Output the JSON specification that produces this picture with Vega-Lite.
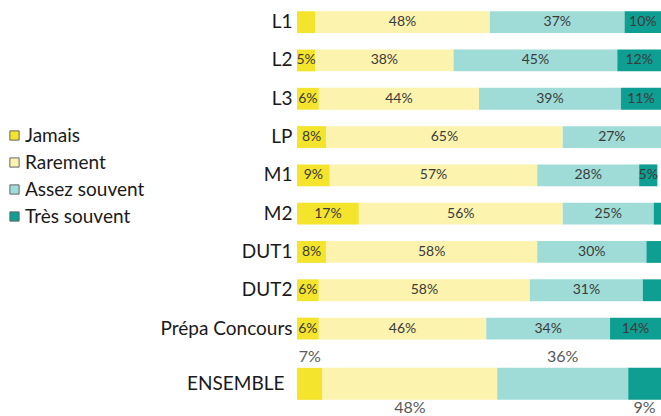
{
  "$schema": "https://vega.github.io/schema/vega-lite/v6.json",
  "autosize": {"type": "none"},
  "width": 364,
  "height": 383,
  "padding": {"left": 297, "top": 3, "right": 0, "bottom": 30},
  "background": "white",
  "config": {"font": "Lato", "view": {"stroke": null}},
  "data": {
    "values": [
      {"cat": "L1", "r": "Jamais", "v": 5},
      {"cat": "L1", "r": "Rarement", "v": 48},
      {"cat": "L1", "r": "Assez souvent", "v": 37},
      {"cat": "L1", "r": "Très souvent", "v": 10},
      {"cat": "L2", "r": "Jamais", "v": 5},
      {"cat": "L2", "r": "Rarement", "v": 38},
      {"cat": "L2", "r": "Assez souvent", "v": 45},
      {"cat": "L2", "r": "Très souvent", "v": 12},
      {"cat": "L3", "r": "Jamais", "v": 6},
      {"cat": "L3", "r": "Rarement", "v": 44},
      {"cat": "L3", "r": "Assez souvent", "v": 39},
      {"cat": "L3", "r": "Très souvent", "v": 11},
      {"cat": "LP", "r": "Jamais", "v": 8},
      {"cat": "LP", "r": "Rarement", "v": 65},
      {"cat": "LP", "r": "Assez souvent", "v": 27},
      {"cat": "LP", "r": "Très souvent", "v": 1},
      {"cat": "M1", "r": "Jamais", "v": 9},
      {"cat": "M1", "r": "Rarement", "v": 57},
      {"cat": "M1", "r": "Assez souvent", "v": 28},
      {"cat": "M1", "r": "Très souvent", "v": 5},
      {"cat": "M2", "r": "Jamais", "v": 17},
      {"cat": "M2", "r": "Rarement", "v": 56},
      {"cat": "M2", "r": "Assez souvent", "v": 25},
      {"cat": "M2", "r": "Très souvent", "v": 2},
      {"cat": "DUT1", "r": "Jamais", "v": 8},
      {"cat": "DUT1", "r": "Rarement", "v": 58},
      {"cat": "DUT1", "r": "Assez souvent", "v": 30},
      {"cat": "DUT1", "r": "Très souvent", "v": 4},
      {"cat": "DUT2", "r": "Jamais", "v": 6},
      {"cat": "DUT2", "r": "Rarement", "v": 58},
      {"cat": "DUT2", "r": "Assez souvent", "v": 31},
      {"cat": "DUT2", "r": "Très souvent", "v": 5},
      {"cat": "Prépa Concours", "r": "Jamais", "v": 6},
      {"cat": "Prépa Concours", "r": "Rarement", "v": 46},
      {"cat": "Prépa Concours", "r": "Assez souvent", "v": 34},
      {"cat": "Prépa Concours", "r": "Très souvent", "v": 14},
      {"cat": "ENSEMBLE", "r": "Jamais", "v": 7},
      {"cat": "ENSEMBLE", "r": "Rarement", "v": 48},
      {"cat": "ENSEMBLE", "r": "Assez souvent", "v": 36},
      {"cat": "ENSEMBLE", "r": "Très souvent", "v": 9}
    ]
  },
  "transform": [
    {"calculate": "indexof(['Jamais','Rarement','Assez souvent','Très souvent'], datum.r)", "as": "o"},
    {"stack": "v", "groupby": ["cat"], "sort": [{"field": "o"}], "as": ["x0", "x1"]},
    {"calculate": "(datum.x0 + datum.x1) / 2", "as": "xm"},
    {"calculate": "datum.v + '%'", "as": "lab"}
  ],
  "encoding": {
    "y": {
      "field": "cat",
      "type": "nominal",
      "sort": ["L1", "L2", "L3", "LP", "M1", "M2", "DUT1", "DUT2", "Prépa Concours", "ENSEMBLE"],
      "scale": {"paddingInner": 0.43, "paddingOuter": 0.215},
      "title": null,
      "axis": {
        "domain": false,
        "ticks": false,
        "labelFont": "Lato",
        "labelFontSize": 19,
        "labelColor": "#1a1a1a",
        "labelPadding": {"condition": {"test": "datum.value == 'ENSEMBLE'", "value": 13}, "value": 5},
        "labelOffset": {"condition": {"test": "datum.value == 'ENSEMBLE'", "value": 17}, "value": 0}
      }
    }
  },
  "layer": [
    {
      "transform": [{"filter": "datum.cat != 'ENSEMBLE'"}],
      "mark": {"type": "bar"},
      "encoding": {
        "x": {"field": "x0", "type": "quantitative", "scale": {"domain": [0, 100]}, "axis": null},
        "x2": {"field": "x1"},
        "color": {
          "field": "r",
          "type": "nominal",
          "scale": {
            "domain": ["Jamais", "Rarement", "Assez souvent", "Très souvent"],
            "range": ["#F4E42C", "#FBF3AE", "#9FDCD7", "#0E9E92"]
          },
          "legend": {
            "orient": "none",
            "legendX": -292,
            "legendY": 123,
            "title": null,
            "symbolType": "square",
            "symbolSize": 85,
            "symbolStrokeColor": "#666666",
            "symbolStrokeWidth": 1,
            "labelFont": "Lato",
            "labelFontSize": 19,
            "labelColor": "#1a1a1a",
            "rowPadding": 7,
            "labelOffset": 1,
            "padding": 0
          }
        }
      }
    },
    {
      "transform": [{"filter": "datum.cat == 'ENSEMBLE'"}],
      "mark": {"type": "bar", "height": 32, "yOffset": 17},
      "encoding": {
        "x": {"field": "x0", "type": "quantitative"},
        "x2": {"field": "x1"},
        "color": {"field": "r", "type": "nominal"}
      }
    },
    {
      "transform": [{"filter": "datum.cat != 'ENSEMBLE' && indexof(['L1|Jamais','LP|Très souvent','M2|Très souvent','DUT1|Très souvent','DUT2|Très souvent'], datum.cat + '|' + datum.r) < 0"}],
      "mark": {"type": "text", "fontSize": 14, "color": "#3a3a3a", "font": "Lato"},
      "encoding": {
        "x": {"field": "xm", "type": "quantitative"},
        "text": {"field": "lab"}
      }
    },
    {
      "transform": [{"filter": "datum.cat == 'ENSEMBLE' && (datum.r == 'Jamais' || datum.r == 'Assez souvent')"}],
      "mark": {"type": "text", "fontSize": 16, "color": "#595959", "font": "Lato", "yOffset": -10},
      "encoding": {
        "x": {"field": "xm", "type": "quantitative"},
        "text": {"field": "lab"}
      }
    },
    {
      "transform": [{"filter": "datum.cat == 'ENSEMBLE' && (datum.r == 'Rarement' || datum.r == 'Très souvent')"}],
      "mark": {"type": "text", "fontSize": 16, "color": "#595959", "font": "Lato", "yOffset": 41},
      "encoding": {
        "x": {"field": "xm", "type": "quantitative"},
        "text": {"field": "lab"}
      }
    }
  ]
}
